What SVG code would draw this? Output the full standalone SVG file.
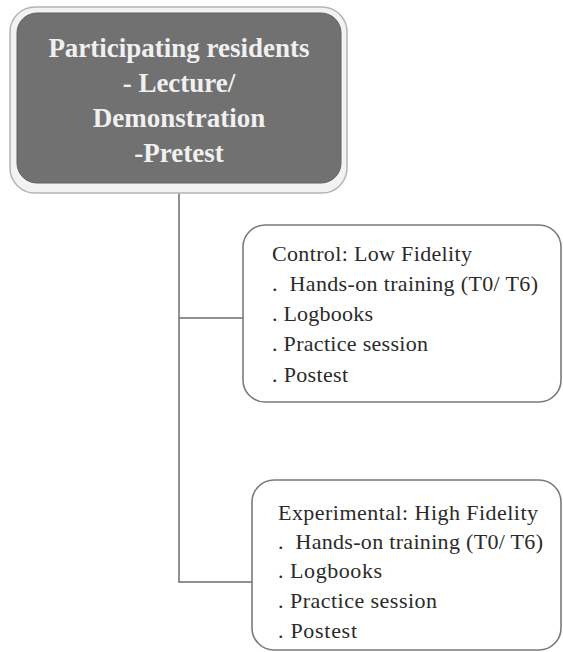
<svg xmlns="http://www.w3.org/2000/svg" width="563" height="652" viewBox="0 0 563 652">
<style>
.box{fill:#ffffff;stroke:#7a7a7a;stroke-width:1.6}
.t{font-family:'Liberation Serif','DejaVu Serif',serif;font-size:22px;fill:#2a2a2a}
.h{font-family:'Liberation Serif','DejaVu Serif',serif;font-size:27px;font-weight:bold;fill:#f0f0f0;text-anchor:middle}
.c{fill:none;stroke:#6e6e6e;stroke-width:1.5}
</style>
<rect width="563" height="652" fill="#ffffff"/>
<g id="connectors">
<path class="c" d="M179 186 V582 H252"/>
<path class="c" d="M179 318 H243"/>
</g>
<g id="top">
<rect x="10" y="7" width="337" height="186" rx="25" fill="#f2f2f2" stroke="#b4b4b4" stroke-width="1.5"/>
<rect x="17" y="13" width="324" height="170" rx="20" fill="#717171" stroke="#606060" stroke-width="1"/>
<text class="h" x="179" y="57">Participating residents</text>
<text class="h" x="179" y="92">- Lecture/</text>
<text class="h" x="179" y="127">Demonstration</text>
<text class="h" x="179" y="162">-Pretest</text>
</g>
<g id="control">
<rect class="box" x="243" y="225" width="318" height="177" rx="22"/>
<text class="t" x="272" y="261" textLength="200">Control: Low Fidelity</text>
<text class="t" x="272" y="291" xml:space="preserve" textLength="266">.  Hands-on training (T0/ T6)</text>
<text class="t" x="272" y="321" textLength="101">. Logbooks</text>
<text class="t" x="272" y="351" textLength="156">. Practice session</text>
<text class="t" x="272" y="382" textLength="76">. Postest</text>
</g>
<g id="experimental">
<rect class="box" x="252" y="480" width="309" height="170" rx="22"/>
<text class="t" x="278" y="520" textLength="260">Experimental: High Fidelity</text>
<text class="t" x="278" y="549" xml:space="preserve" textLength="265">.  Hands-on training (T0/ T6)</text>
<text class="t" x="278" y="578" textLength="104">. Logbooks</text>
<text class="t" x="278" y="608" textLength="159">. Practice session</text>
<text class="t" x="278" y="638" textLength="79">. Postest</text>
</g>
</svg>
